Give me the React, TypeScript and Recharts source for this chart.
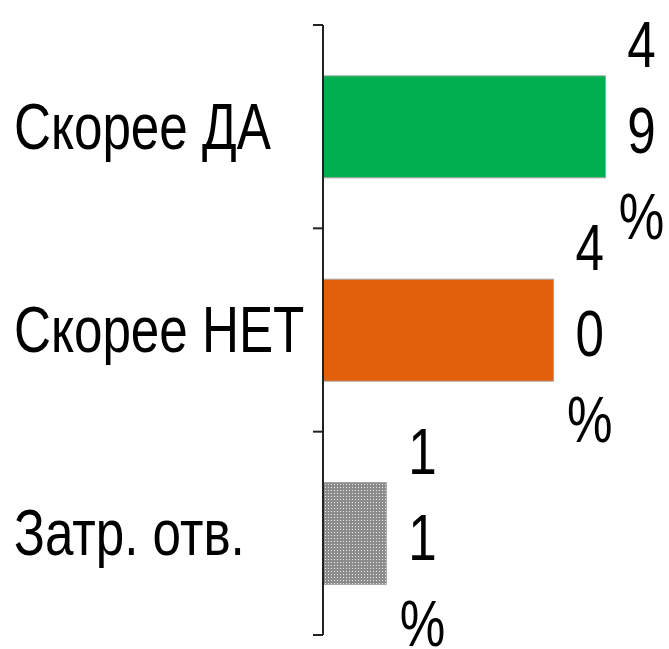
import React from "react";
import { BarChart, Bar, XAxis, YAxis, Cell, LabelList } from "recharts";

const categories = ["Скорее ДА", "Скорее НЕТ", "Затр. отв."];
const values = [49, 40, 11];
const valueLabels = ["49%", "40%", "11%"];
const fills = ["#00B050", "#E3600A", "url(#dots)"];

const data = categories.map((name, i) => ({
  name,
  value: values[i],
  label: valueLabels[i],
}));

const FONT = "'Liberation Sans', Arial, sans-serif";
const NARROW = 0.8; // mimic Arial Narrow

const CategoryTick = (props: any) => {
  const { x, y, payload, index, visibleTicksCount } = props;
  const half = payload.offset || 0;
  return (
    <g>
      <line x1={x} x2={x + 10} y1={y - half} y2={y - half} stroke="#222" strokeWidth={2} />
      {index === visibleTicksCount - 1 && (
        <line x1={x} x2={x + 10} y1={y + half} y2={y + half} stroke="#222" strokeWidth={2} />
      )}
      <text
        transform={`translate(14 ${y}) scale(${NARROW} 1)`}
        textAnchor="start"
        dominantBaseline="central"
        fontSize={64}
        fontFamily={FONT}
        fill="#000"
      >
        {payload.value}
      </text>
    </g>
  );
};

// value labels are wrapped one character per line
const StackedLabel = (props: any) => {
  const { x, y, width, height, value } = props;
  const cx = x + width + 36;
  const cy = y + height / 2 + 4;
  const chars = String(value).split("");
  const step = 86;
  const start = -((chars.length - 1) * step) / 2;
  return (
    <text
      transform={`translate(${cx} ${cy}) scale(${NARROW} 1)`}
      textAnchor="middle"
      fontSize={64}
      fontFamily={FONT}
      fill="#000"
    >
      {chars.map((c, i) => (
        <tspan key={i} x={0} y={start + i * step} dominantBaseline="central">
          {c}
        </tspan>
      ))}
    </text>
  );
};

export default function App() {
  return (
    <div style={{ position: "absolute", left: 0, top: 0, width: 669, height: 649, background: "#fff" }}>
      <BarChart
        width={669}
        height={649}
        data={data}
        layout="vertical"
        margin={{ top: 25, right: 0, bottom: 14, left: 0 }}
        barCategoryGap="25%"
      >
        <defs>
          <pattern id="dots" width="3" height="3" patternUnits="userSpaceOnUse">
            <rect width="3" height="3" fill="#8c8c8c" />
            <rect x="1" y="1" width="1" height="1" fill="#e8e8e8" />
          </pattern>
        </defs>
        <XAxis type="number" domain={[0, 60]} hide />
        <YAxis
          type="category"
          dataKey="name"
          width={323}
          tickSize={10}
          tickMargin={0}
          axisLine={{ stroke: "#222", strokeWidth: 2 }}
          tickLine={false}
          tick={<CategoryTick />}
        />
        <Bar dataKey="value" isAnimationActive={false} stroke="#a6a6a6" strokeWidth={1}>
          {data.map((d, i) => (
            <Cell key={d.name} fill={fills[i]} />
          ))}
          <LabelList dataKey="label" content={<StackedLabel />} />
        </Bar>
      </BarChart>
    </div>
  );
}
